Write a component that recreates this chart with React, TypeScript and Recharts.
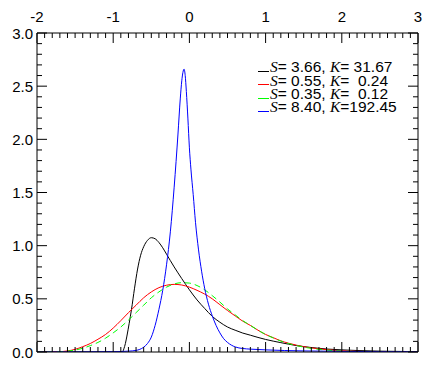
import React from "react";
import { LineChart, Line, XAxis, YAxis, ReferenceLine, Legend } from "recharts";

// plot frame (px) – matches the chart margins below
const LEFT = 37;
const RIGHT = 418;
const TOP = 33;
const BOTTOM = 352;
const AXIS_H = 20;
const AXIS_W = 30;

const xMajor = [-2, -1, 0, 1, 2, 3];
const yMajor = [0, 0.5, 1, 1.5, 2, 2.5, 3];
const minorStep = 0.1;

const blackX = [-2, -1.5, -1, -0.9, -0.88, -0.86, -0.84, -0.82, -0.79, -0.76, -0.72, -0.68, -0.64, -0.6, -0.55, -0.5, -0.45, -0.4, -0.35, -0.3, -0.2, -0.1, 0, 0.1, 0.2, 0.3, 0.4, 0.5, 0.6, 0.7, 0.8, 0.9, 1.0, 1.2, 1.4, 1.6, 1.8, 2.0, 2.2, 2.5, 3.0];
const blackY = [0, 0, 0, 0, 0, 0.03, 0.08, 0.15, 0.27, 0.4, 0.6, 0.78, 0.91, 0.99, 1.05, 1.075, 1.065, 1.03, 0.98, 0.92, 0.8, 0.69, 0.585, 0.49, 0.41, 0.335, 0.28, 0.235, 0.205, 0.178, 0.158, 0.137, 0.118, 0.088, 0.061, 0.042, 0.028, 0.02, 0.014, 0.008, 0.003];

const redX = [-2, -1.8, -1.7, -1.6, -1.5, -1.4, -1.3, -1.2, -1.1, -1.0, -0.9, -0.8, -0.7, -0.6, -0.5, -0.4, -0.3, -0.2, -0.1, 0, 0.1, 0.2, 0.3, 0.4, 0.5, 0.6, 0.7, 0.8, 0.9, 1.0, 1.1, 1.2, 1.3, 1.4, 1.5, 1.6, 1.7, 1.8, 2.0, 2.2, 2.5, 3.0];
const redY = [0, 0.001, 0.003, 0.01, 0.025, 0.05, 0.08, 0.12, 0.165, 0.225, 0.295, 0.37, 0.44, 0.51, 0.565, 0.605, 0.628, 0.636, 0.63, 0.61, 0.58, 0.545, 0.5, 0.445, 0.39, 0.34, 0.29, 0.25, 0.205, 0.165, 0.135, 0.105, 0.083, 0.065, 0.05, 0.039, 0.03, 0.022, 0.012, 0.006, 0.002, 0];

const greenX = redX;
const greenY = [0, 0.001, 0.003, 0.008, 0.018, 0.035, 0.06, 0.09, 0.13, 0.18, 0.235, 0.3, 0.37, 0.44, 0.51, 0.565, 0.61, 0.64, 0.652, 0.648, 0.625, 0.585, 0.53, 0.47, 0.405, 0.35, 0.295, 0.25, 0.205, 0.165, 0.132, 0.103, 0.08, 0.061, 0.046, 0.034, 0.025, 0.018, 0.009, 0.004, 0.001, 0];

const blueX = [-2, -1.5, -1.0, -0.8, -0.7, -0.65, -0.6, -0.55, -0.5, -0.45, -0.4, -0.35, -0.3, -0.25, -0.2, -0.15, -0.12, -0.1, -0.085, -0.07, -0.055, -0.04, -0.02, 0, 0.02, 0.05, 0.08, 0.12, 0.16, 0.2, 0.25, 0.3, 0.35, 0.4, 0.45, 0.5, 0.55, 0.6, 0.7, 0.8, 1.0, 1.5, 2.0, 2.5, 3.0];
const blueY = [0, 0.001, 0.003, 0.008, 0.015, 0.025, 0.045, 0.08, 0.14, 0.25, 0.4, 0.58, 0.82, 1.13, 1.55, 2.05, 2.38, 2.55, 2.63, 2.66, 2.6, 2.45, 2.2, 1.92, 1.72, 1.48, 1.22, 0.96, 0.76, 0.6, 0.45, 0.34, 0.25, 0.18, 0.125, 0.09, 0.065, 0.048, 0.033, 0.027, 0.02, 0.01, 0.006, 0.003, 0.002];

const seriesColors = ["#000000", "#ff0000", "#00ff00", "#0000ff"];
const legendSkew = ["3.66", "0.55", "0.35", "8.40"];
const legendKurt = [" 31.67", "  0.24", "  0.12", "192.45"];

const toPoints = (xs: number[], ys: number[]) => xs.map((x, i) => ({ x, y: ys[i] }));

const series = [
  toPoints(blackX, blackY),
  toPoints(redX, redY),
  toPoints(greenX, greenY),
  toPoints(blueX, blueY),
];

const round1 = (v: number) => Math.round(v * 10) / 10;
const xTicks = Array.from({ length: Math.round((3 - -2) / minorStep) + 1 }, (_, i) => round1(-2 + i * minorStep));
const yTicks = Array.from({ length: Math.round(3 / minorStep) + 1 }, (_, i) => round1(i * minorStep));

const labelFont = { fontFamily: "'Liberation Sans', Arial, sans-serif", fontSize: 15, fill: "#000" };

function XTick(props: any) {
  const { x, payload } = props;
  const v = payload.value;
  const major = xMajor.some((m) => Math.abs(m - v) < 1e-6);
  const len = major ? 10 : 5;
  return (
    <g>
      <line x1={x} x2={x} y1={BOTTOM} y2={BOTTOM - len} stroke="#000" />
      <line x1={x} x2={x} y1={TOP} y2={TOP + len} stroke="#000" />
      {major && (
        <text x={x} y={22} textAnchor="middle" style={labelFont}>
          {String(v)}
        </text>
      )}
    </g>
  );
}

function YTick(props: any) {
  const { y, payload } = props;
  const v = payload.value;
  const major = yMajor.some((m) => Math.abs(m - v) < 1e-6);
  const len = major ? 10 : 5;
  return (
    <g>
      <line x1={LEFT} x2={LEFT + len} y1={y} y2={y} stroke="#000" />
      <line x1={RIGHT} x2={RIGHT - len} y1={y} y2={y} stroke="#000" />
      {major && (
        <text x={33} y={y + 5.5} textAnchor="end" style={labelFont}>
          {v.toFixed(1)}
        </text>
      )}
    </g>
  );
}

function LegendBox() {
  const italic = { fontFamily: "'Liberation Serif', 'Times New Roman', serif", fontStyle: "italic" as const };
  return (
    <div style={{ fontFamily: "'Liberation Sans', Arial, sans-serif", fontSize: 15.5, color: "#000" }}>
      {legendSkew.map((s, i) => (
        <div key={i} style={{ position: "relative", height: 13.35 }}>
          <span
            style={{
              position: "absolute",
              left: 0,
              top: 10.6,
              width: 11,
              height: 1,
              background: seriesColors[i],
            }}
          />
          <span style={{ position: "absolute", left: 12, top: 0, lineHeight: "13.35px", whiteSpace: "pre" }}>
            <span style={italic}>S</span>
            {`= ${s}, `}
            <span style={italic}>K</span>
            {`=${legendKurt[i]}`}
          </span>
        </div>
      ))}
    </div>
  );
}

export default function App() {
  return (
    <div style={{ width: 436, height: 381, background: "#fff" }}>
      <style>{"body{margin:0}"}</style>
      <LineChart
        width={436}
        height={381}
        margin={{ top: TOP, right: 436 - RIGHT, bottom: 381 - BOTTOM - AXIS_H, left: LEFT - AXIS_W }}
      >
        <XAxis
          type="number"
          dataKey="x"
          domain={[-2, 3]}
          ticks={xTicks}
          interval={0}
          allowDataOverflow
          height={AXIS_H}
          tickLine={false}
          axisLine={{ stroke: "#000" }}
          tick={<XTick />}
        />
        <YAxis
          type="number"
          dataKey="y"
          domain={[0, 3]}
          ticks={yTicks}
          interval={0}
          allowDataOverflow
          width={AXIS_W}
          tickLine={false}
          axisLine={{ stroke: "#000" }}
          tick={<YTick />}
        />
        <ReferenceLine y={3} stroke="#000" ifOverflow="visible" />
        <ReferenceLine x={3} stroke="#000" ifOverflow="visible" />
        <Legend
          layout="vertical"
          align="center"
          verticalAlign="middle"
          content={() => <LegendBox />}
          wrapperStyle={{ position: "absolute", left: 258, top: 60.4, width: 172, height: 56 }}
        />
        {series.map((data, i) => (
          <Line
            key={i}
            data={data}
            dataKey="y"
            type="monotone"
            stroke={seriesColors[i]}
            strokeWidth={1}
            strokeDasharray={i === 2 ? "6 4" : undefined}
            dot={false}
            activeDot={false}
            isAnimationActive={false}
          />
        ))}
      </LineChart>
    </div>
  );
}
